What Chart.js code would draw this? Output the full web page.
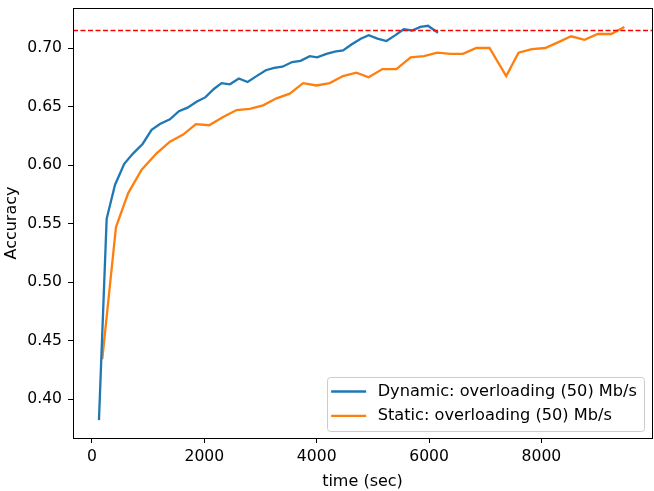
<!DOCTYPE html>
<html>
<head>
<meta charset="utf-8">
<script src="https://cdn.jsdelivr.net/npm/chart.js@4/dist/chart.umd.min.js"></script>
<style>
  html, body { margin: 0; padding: 0; background: #fff; }
  canvas { display: block; }
</style>
</head>
<body>
<canvas id="acc" width="654" height="491"></canvas>
<script>
  // time (sec) and accuracy
  const dynTime = [124, 261, 409, 574, 734, 901, 1061, 1209, 1387, 1547, 1701, 1861, 2021, 2169,
    2306, 2454, 2614, 2769, 2929, 3094, 3242, 3391, 3562, 3712, 3877, 4007, 4174, 4321, 4469,
    4618, 4784, 4926, 5081, 5241, 5401, 5548, 5696, 5846, 5981, 6159];
  const dynAcc = [0.382, 0.554, 0.583, 0.601, 0.610, 0.618, 0.630, 0.635, 0.639, 0.646, 0.649,
    0.654, 0.658, 0.665, 0.670, 0.669, 0.674, 0.671, 0.676, 0.681, 0.683, 0.684, 0.688, 0.689,
    0.693, 0.692, 0.695, 0.697, 0.698, 0.703, 0.708, 0.711, 0.708, 0.706, 0.711, 0.716, 0.715,
    0.718, 0.719, 0.713];

  const statTime = [183, 427, 645, 884, 1150, 1387, 1623, 1849, 2086, 2334, 2573, 2809, 3046,
    3284, 3520, 3757, 3995, 4232, 4468, 4706, 4925, 5169, 5418, 5672, 5908, 6147, 6378, 6602,
    6840, 7076, 7373, 7592, 7829, 8067, 8303, 8529, 8766, 9002, 9240, 9477];
  const statAcc = [0.434, 0.547, 0.576, 0.596, 0.610, 0.620, 0.626, 0.635, 0.634, 0.641, 0.647,
    0.648, 0.651, 0.657, 0.661, 0.670, 0.668, 0.670, 0.676, 0.679, 0.675, 0.682, 0.682, 0.692,
    0.693, 0.696, 0.695, 0.695, 0.700, 0.700, 0.676, 0.696, 0.699, 0.700, 0.705, 0.710, 0.707,
    0.712, 0.712, 0.718];

  const TARGET_ACC = 0.7155;
  const xTicks = [0, 2000, 4000, 6000, 8000];
  const yTicks = [0.40, 0.45, 0.50, 0.55, 0.60, 0.65, 0.70];

  const FONT = "'DejaVu Sans', sans-serif";

  function toPoints(xs, ys) {
    return xs.map((x, i) => ({ x: x, y: ys[i] }));
  }

  // red dashed target line + black frame round the plot
  const framePlugin = {
    id: "frame",
    afterDatasetsDraw(chart) {
      const { ctx, chartArea: a, scales } = chart;
      const y = scales.y.getPixelForValue(TARGET_ACC);
      ctx.save();
      ctx.strokeStyle = "#ff0000";
      ctx.lineWidth = 1.3;
      ctx.setLineDash([5, 2.5]);
      ctx.beginPath();
      ctx.moveTo(a.left, Math.round(y) + 0.5);
      ctx.lineTo(a.right, Math.round(y) + 0.5);
      ctx.stroke();
      ctx.setLineDash([]);
      ctx.strokeStyle = "#000";
      ctx.lineWidth = 1;
      ctx.strokeRect(Math.round(a.left) + 0.5, Math.round(a.top) + 0.5,
        Math.round(a.right - a.left), Math.round(a.bottom - a.top));
      ctx.restore();
    },
  };

  // matplotlib style legend, lower right inside the axes
  const legendPlugin = {
    id: "mplLegend",
    afterDraw(chart) {
      const { ctx, chartArea: a } = chart;
      const sets = chart.data.datasets;
      ctx.save();
      ctx.font = "16.2px " + FONT;
      const textW = Math.max(...sets.map((d) => ctx.measureText(d.label).width));
      const w = 51 + textW + 7;
      const h = 54;
      const x0 = a.right - 8 - w;
      const y0 = a.bottom - 7 - h;
      ctx.fillStyle = "rgba(255,255,255,0.8)";
      ctx.strokeStyle = "#cccccc";
      ctx.lineWidth = 1;
      ctx.beginPath();
      ctx.roundRect(Math.round(x0) + 0.5, Math.round(y0) + 0.5, Math.round(w), h, 3);
      ctx.fill();
      ctx.stroke();
      sets.forEach((d, i) => {
        const ly = y0 + 14.5 + i * 24.3;
        ctx.strokeStyle = d.borderColor;
        ctx.lineWidth = d.borderWidth;
        ctx.beginPath();
        ctx.moveTo(x0 + 4.5, ly);
        ctx.lineTo(x0 + 39.5, ly);
        ctx.stroke();
        ctx.fillStyle = "#000";
        ctx.textBaseline = "middle";
        ctx.fillText(d.label, x0 + 51, ly);
      });
      ctx.restore();
    },
  };

  new Chart(document.getElementById("acc").getContext("2d"), {
    type: "line",
    data: {
      datasets: [
        {
          label: "Dynamic: overloading (50) Mb/s",
          data: toPoints(dynTime, dynAcc),
          borderColor: "#1f77b4",
          borderWidth: 2.3,
          pointRadius: 0,
          tension: 0,
          fill: false,
        },
        {
          label: "Static: overloading (50) Mb/s",
          data: toPoints(statTime, statAcc),
          borderColor: "#ff7f0e",
          borderWidth: 2.3,
          pointRadius: 0,
          tension: 0,
          fill: false,
        },
      ],
    },
    options: {
      responsive: false,
      animation: false,
      devicePixelRatio: 1,
      layout: { padding: { top: 8, right: 2, left: 0, bottom: 0 } },
      plugins: {
        legend: { display: false },
        tooltip: { enabled: false },
      },
      scales: {
        x: {
          type: "linear",
          min: -338,
          max: 9968,
          afterBuildTicks: (s) => { s.ticks = xTicks.map((v) => ({ value: v })); },
          afterFit: (s) => {
            s.height = 53;
            s.paddingLeft = 0;
            s.paddingRight = 0;
          },
          ticks: {
            color: "#000",
            font: { family: FONT, size: 15.6 },
            padding: 5,
            maxRotation: 0,
            callback: (v) => String(v),
          },
          grid: { display: true, drawOnChartArea: false, drawTicks: true, tickLength: 5, color: "#000" },
          border: { display: true, color: "#000" },
          title: {
            display: true,
            text: "time (sec)",
            color: "#000",
            font: { family: FONT, size: 16 },
            padding: { top: 0, bottom: 0 },
          },
        },
        y: {
          type: "linear",
          min: 0.3667,
          max: 0.7342,
          afterBuildTicks: (s) => { s.ticks = yTicks.map((v) => ({ value: v })); },
          afterFit: (s) => {
            s.width = 73;
            s.paddingTop = 0;
            s.paddingBottom = 0;
          },
          ticks: {
            color: "#000",
            font: { family: FONT, size: 15.6 },
            padding: 6,
            callback: (v) => v.toFixed(2),
          },
          grid: { display: true, drawOnChartArea: false, drawTicks: true, tickLength: 5, color: "#000" },
          border: { display: true, color: "#000" },
          title: {
            display: true,
            text: "Accuracy",
            color: "#000",
            font: { family: FONT, size: 16 },
            padding: { top: 2, bottom: 0 },
          },
        },
      },
    },
    plugins: [framePlugin, legendPlugin],
  });
</script>
</body>
</html>
